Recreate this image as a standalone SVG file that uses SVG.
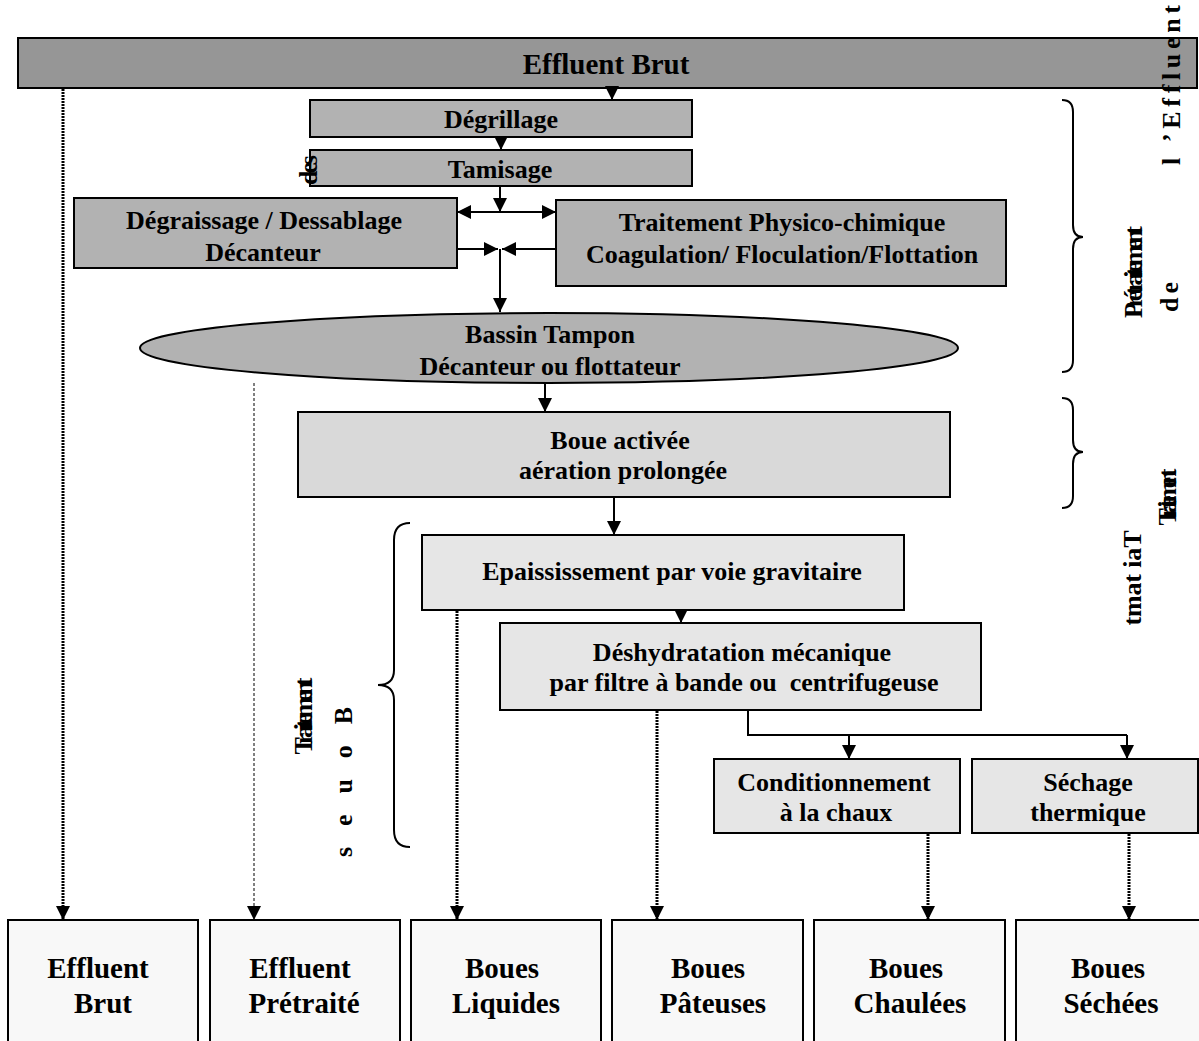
<svg xmlns="http://www.w3.org/2000/svg" width="1199" height="1041" viewBox="0 0 1199 1041">
  <style>
    text { font-family: "Liberation Serif", "Times New Roman", serif; font-weight: bold; fill: #000; }
    .lbl { font-size: 26px; text-anchor: middle; }
    .big { font-size: 29px; text-anchor: middle; }
    .side { font-size: 26px; text-anchor: middle; }
    .box { stroke: #000; stroke-width: 2; }
    .dark { fill: #969696; }
    .mid { fill: #b2b2b2; }
    .light { fill: #d9d9d9; }
    .pale { fill: #e6e6e6; }
    .out { fill: #f8f8f8; }
    .flow { stroke: #000; stroke-width: 2; fill: none; }
    .dots { stroke: #000; stroke-width: 3; stroke-dasharray: 2 1; fill: none; }
    .dash { stroke: #000; stroke-width: 1; stroke-dasharray: 3 2; fill: none; }
    .brace { stroke: #000; stroke-width: 2; fill: none; }
  </style>
  <defs>
    <marker id="arrow" viewBox="0 0 14 14" refX="14" refY="7" markerWidth="14" markerHeight="14" markerUnits="userSpaceOnUse" orient="auto">
      <path d="M0,0 L14,7 L0,14 Z" fill="#000"/>
    </marker>
  </defs>

  <rect width="1199" height="1041" fill="#fff"/>

  <!-- process stages -->
  <g id="effluent-brut-bar">
    <rect class="box dark" x="18" y="38" width="1179" height="50" stroke-width="2.5"/>
    <text class="big" x="606" y="74">Effluent Brut</text>
  </g>
  <g id="degrillage">
    <rect class="box mid" x="310" y="100" width="382" height="37"/>
    <text class="lbl" x="501" y="128">Dégrillage</text>
  </g>
  <g id="tamisage">
    <rect class="box mid" x="310" y="150" width="382" height="36"/>
    <text class="lbl" x="500" y="178">Tamisage</text>
  </g>
  <g id="degraissage">
    <rect class="box mid" x="74" y="198" width="383" height="70"/>
    <text class="lbl" x="264" y="229">Dégraissage / Dessablage</text>
    <text class="lbl" x="263" y="261">Décanteur</text>
  </g>
  <g id="physico-chimique">
    <rect class="box mid" x="556" y="200" width="450" height="86"/>
    <text class="lbl" x="782" y="231">Traitement Physico-chimique</text>
    <text class="lbl" x="782" y="263">Coagulation/ Floculation/Flottation</text>
  </g>
  <g id="bassin-tampon">
    <ellipse class="box mid" cx="549" cy="348" rx="409" ry="35"/>
    <text class="lbl" x="550" y="343">Bassin Tampon</text>
    <text class="lbl" x="550" y="375">Décanteur ou flottateur</text>
  </g>
  <g id="boue-activee">
    <rect class="box light" x="298" y="412" width="652" height="85"/>
    <text class="lbl" x="620" y="449">Boue activée</text>
    <text class="lbl" x="623" y="479">aération prolongée</text>
  </g>
  <g id="epaississement">
    <rect class="box pale" x="422" y="535" width="482" height="75"/>
    <text class="lbl" x="672" y="580">Epaississement par voie gravitaire</text>
  </g>
  <g id="deshydratation">
    <rect class="box pale" x="500" y="623" width="481" height="87"/>
    <text class="lbl" x="742" y="661">Déshydratation mécanique</text>
    <text class="lbl" x="744" y="691" xml:space="preserve">par filtre à bande ou  centrifugeuse</text>
  </g>
  <g id="conditionnement">
    <rect class="box pale" x="714" y="759" width="246" height="74"/>
    <text class="lbl" x="834" y="791">Conditionnement</text>
    <text class="lbl" x="836" y="821">à la chaux</text>
  </g>
  <g id="sechage">
    <rect class="box pale" x="972" y="759" width="226" height="74"/>
    <text class="lbl" x="1088" y="791">Séchage</text>
    <text class="lbl" x="1088" y="821">thermique</text>
  </g>

  <!-- end products -->
  <g id="out-effluent-brut">
    <rect class="box out" x="8" y="920" width="190" height="130"/>
    <text class="big" x="98" y="978">Effluent</text>
    <text class="big" x="103" y="1013">Brut</text>
  </g>
  <g id="out-effluent-pretraite">
    <rect class="box out" x="210" y="920" width="190" height="130"/>
    <text class="big" x="300" y="978">Effluent</text>
    <text class="big" x="304" y="1013">Prétraité</text>
  </g>
  <g id="out-boues-liquides">
    <rect class="box out" x="411" y="920" width="190" height="130"/>
    <text class="big" x="502" y="978">Boues</text>
    <text class="big" x="506" y="1013">Liquides</text>
  </g>
  <g id="out-boues-pateuses">
    <rect class="box out" x="612" y="920" width="191" height="130"/>
    <text class="big" x="708" y="978">Boues</text>
    <text class="big" x="713" y="1013">Pâteuses</text>
  </g>
  <g id="out-boues-chaulees">
    <rect class="box out" x="814" y="920" width="191" height="130"/>
    <text class="big" x="906" y="978">Boues</text>
    <text class="big" x="910" y="1013">Chaulées</text>
  </g>
  <g id="out-boues-sechees">
    <rect class="box out" x="1016" y="920" width="190" height="130"/>
    <text class="big" x="1108" y="978">Boues</text>
    <text class="big" x="1111" y="1013">Séchées</text>
  </g>

  <!-- connectors -->
  <g id="connectors">
    <line class="flow" x1="612" y1="88" x2="612" y2="100" marker-end="url(#arrow)"/>
    <line class="flow" x1="501" y1="137" x2="501" y2="150" marker-end="url(#arrow)"/>
    <line class="flow" x1="500" y1="186" x2="500" y2="212" marker-end="url(#arrow)"/>
    <line class="flow" x1="500" y1="212" x2="457" y2="212" marker-end="url(#arrow)"/>
    <line class="flow" x1="500" y1="212" x2="556" y2="212" marker-end="url(#arrow)"/>
    <line class="flow" x1="457" y1="249" x2="498" y2="249" marker-end="url(#arrow)"/>
    <line class="flow" x1="556" y1="249" x2="502" y2="249" marker-end="url(#arrow)"/>
    <line class="flow" x1="500" y1="249" x2="500" y2="312" marker-end="url(#arrow)"/>
    <line class="flow" x1="545" y1="383" x2="545" y2="412" marker-end="url(#arrow)"/>
    <line class="flow" x1="614" y1="497" x2="614" y2="535" marker-end="url(#arrow)"/>
    <line class="flow" x1="681" y1="610" x2="681" y2="623" marker-end="url(#arrow)"/>
    <polyline class="flow" points="748,710 748,735 1127,735"/>
    <line class="flow" x1="849" y1="735" x2="849" y2="759" marker-end="url(#arrow)"/>
    <line class="flow" x1="1127" y1="735" x2="1127" y2="759" marker-end="url(#arrow)"/>

    <line class="dots" x1="63" y1="89" x2="63" y2="920" marker-end="url(#arrow)"/>
    <line class="dash" x1="254" y1="383" x2="254" y2="920" marker-end="url(#arrow)"/>
    <line class="dots" x1="457" y1="611" x2="457" y2="920" marker-end="url(#arrow)"/>
    <line class="dots" x1="657" y1="711" x2="657" y2="920" marker-end="url(#arrow)"/>
    <line class="dots" x1="928" y1="834" x2="928" y2="920" marker-end="url(#arrow)"/>
    <line class="dots" x1="1129" y1="834" x2="1129" y2="920" marker-end="url(#arrow)"/>
  </g>

  <!-- stage braces -->
  <g id="braces">
    <path class="brace" d="M1062,100 Q1073,100 1073,112 L1073,225 Q1073,237 1083,237 Q1073,237 1073,249 L1073,360 Q1073,372 1062,372"/>
    <path class="brace" d="M1062,398 Q1073,398 1073,410 L1073,440 Q1073,452 1083,452 Q1073,452 1073,464 L1073,496 Q1073,508 1062,508"/>
    <path class="brace" d="M410,523 Q394,523 394,540 L394,670 Q394,685 378,685 Q394,685 394,700 L394,830 Q394,847 410,847"/>
  </g>

  <!-- vertical stage titles -->
  <g id="stage-titles">
    <text class="side" transform="translate(1180,85) rotate(-90)" textLength="160" lengthAdjust="spacing">l ’Effluent</text>
    <text class="side" transform="translate(1178,297) rotate(-90)" textLength="30" lengthAdjust="spacing">de</text>
    <text class="side" transform="translate(1142,272) rotate(-90)" textLength="92" lengthAdjust="spacing">Prétraitement</text>
    <text class="side" transform="translate(1176,497) rotate(-90)" textLength="57" lengthAdjust="spacing">Traitement</text>
    <text class="side" transform="translate(1141,578) rotate(-90)" textLength="95" lengthAdjust="spacing">tmat iaT</text>
    <text class="side" transform="translate(312,716) rotate(-90)" textLength="77" lengthAdjust="spacing">Traitement</text>
    <text class="side" transform="translate(352,782) rotate(-90)" textLength="150" lengthAdjust="spacing">s e u o B</text>
    <text class="side" transform="translate(317,170) rotate(-90)" textLength="30" lengthAdjust="spacing">des</text>
  </g>
</svg>
